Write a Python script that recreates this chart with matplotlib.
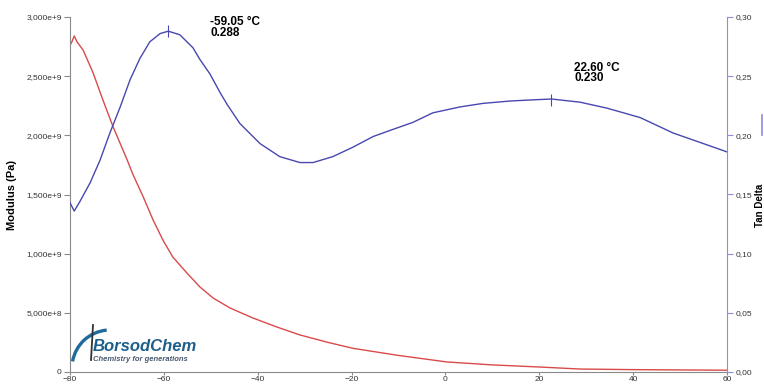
import matplotlib
matplotlib.use("Agg")
import matplotlib.pyplot as plt
from matplotlib.patches import Arc
from matplotlib.ticker import FuncFormatter

plt.rcParams["font.family"] = ["Liberation Sans", "DejaVu Sans"]

# temperature (°C) vs storage modulus (Pa)
temp_mod = [-80, -79.6, -79.1, -78.5, -77.2, -75.1, -73.0, -70.8, -67.9, -66.6,
            -64.4, -62.3, -60.2, -58.1, -55.1, -52.3, -49.5, -45.9, -41.0, -35.9,
            -31.0, -25.0, -19.7, -10.0, 0.3, 10.0, 20.1, 28.7, 40.0, 60.0]
modulus = [2.76e9, 2.79e9, 2.84e9, 2.79e9, 2.72e9, 2.53e9, 2.30e9, 2.07e9, 1.80e9, 1.67e9,
           1.48e9, 1.285e9, 1.115e9, 0.972e9, 0.837e9, 0.718e9, 0.625e9, 0.541e9, 0.456e9, 0.380e9,
           0.313e9, 0.25e9, 0.20e9, 0.14e9, 0.085e9, 0.06e9, 0.042e9, 0.025e9, 0.02e9, 0.015e9]

# temperature (°C) vs tan delta
temp_tan = [-80, -79.1, -77.9, -75.7, -73.6, -71.5, -69.3, -67.2, -65.1, -63.0,
            -60.8, -59.05, -56.6, -53.8, -52.3, -50.2, -48.0, -46.5, -43.8, -39.5,
            -35.3, -31.0, -28.2, -24.0, -19.7, -15.4, -11.2, -6.9, -2.7, 3.1,
            8.0, 13.8, 18.7, 22.6, 28.7, 34.4, 41.5, 48.5, 55.7, 60.0]
tan_delta = [0.143, 0.136, 0.144, 0.160, 0.179, 0.202, 0.224, 0.247, 0.265, 0.279,
             0.286, 0.288, 0.285, 0.274, 0.264, 0.252, 0.236, 0.226, 0.210, 0.193,
             0.182, 0.177, 0.177, 0.182, 0.190, 0.199, 0.205, 0.211, 0.219, 0.224,
             0.227, 0.229, 0.230, 0.2307, 0.228, 0.223, 0.215, 0.202, 0.192, 0.186]

peaks_T = [-59.05, 22.60]
peaks_tan = [0.288, 0.230]

mod_ticks = [0, 5e8, 1e9, 1.5e9, 2e9, 2.5e9, 3e9]
mod_labels = ["0", "5,000e+8", "1,000e+9", "1,500e+9", "2,000e+9", "2,500e+9", "3,000e+9"]
tan_ticks = [0, 0.05, 0.10, 0.15, 0.20, 0.25, 0.30]
x_ticks = [-80, -60, -40, -20, 0, 20, 40, 60]

RED = "#d94a4a"
BLUE = "#4848b0"
GREY = "#8a8a8a"
LBLUE = "#8c8ce0"

fig = plt.figure(figsize=(7.64, 3.85), dpi=100)
W, H = 764, 385
ax = fig.add_axes([70 / W, 13 / H, 657 / W, 355 / H])
ax2 = ax.twinx()

ax.plot(temp_mod, modulus, color=RED, lw=1.0)
ax2.plot(temp_tan, tan_delta, color=BLUE, lw=1.0)
ax2.plot(peaks_T, peaks_tan, ls="none", marker="|", ms=9, mew=0.8, color=BLUE)

ax.set_xlim(-80, 60)
ax.set_ylim(0, 3e9)
ax2.set_ylim(0, 0.30)
ax.set_xticks(x_ticks)
ax.set_yticks(mod_ticks)
ax.set_yticklabels(mod_labels)
ax2.set_yticks(tan_ticks)
ax2.yaxis.set_major_formatter(FuncFormatter(lambda v, p: f"{v:.2f}".replace(".", ",")))

for a in (ax, ax2):
    a.spines["top"].set_visible(False)
ax.spines["right"].set_visible(False)
ax2.spines["left"].set_visible(False)
ax2.spines["bottom"].set_visible(False)
ax.spines["left"].set_color(GREY)
ax.spines["bottom"].set_color(GREY)
ax2.spines["right"].set_color(LBLUE)

ax.tick_params(axis="y", direction="out", length=4, width=0.8, color=GREY,
               labelsize=6, labelcolor="#333333", pad=2)
ax.tick_params(axis="x", direction="out", length=2.5, width=0.8, color=GREY,
               labelsize=6, labelcolor="#333333", pad=0.5)
ax2.tick_params(axis="y", direction="out", length=4, width=0.8, color=LBLUE,
                labelsize=6, labelcolor="#333333", pad=2)

ax.set_ylabel("Modulus (Pa)", fontsize=8, fontweight="bold")
ax.yaxis.set_label_coords(-0.081, 0.5)
ax2.set_ylabel("Tan Delta", fontsize=7, fontweight="bold", rotation=90)
ax2.yaxis.set_label_coords(1.043, 0.47)

for T, v, label, off in [(peaks_T[0], peaks_tan[0], "-59.05 °C\n0.288", (42, 15)),
                         (peaks_T[1], peaks_tan[1], "22.60 °C\n0.230", (23, 38))]:
    ax2.annotate(label, xy=(T, v), xytext=off, textcoords="offset pixels",
                 fontsize=8.5, fontweight="bold", ha="left", va="top",
                 linespacing=0.85)

# legend stub cut off at right edge
fig.add_artist(plt.Line2D([762 / W, 762 / W], [1 - 115 / H, 1 - 135 / H],
                          color=LBLUE, lw=1.2))

# BorsodChem logo
lg = fig.add_axes([70 / W, 1 - 368 / H, 130 / W, 46 / H])
lg.set_xlim(0, 130)
lg.set_ylim(0, 46)
lg.axis("off")
lg.add_patch(Arc((40, 0), 76, 76, theta1=95, theta2=170, color="#1f6a98", lw=2.4))
lg.plot([23, 21], [43, 8], color="#333333", lw=1.3)
lg.text(23, 14, "BorsodChem", fontsize=12, fontweight="bold", style="italic",
        color="#1d5f8a", ha="left", va="bottom")
lg.text(23, 5, "Chemistry for generations", fontsize=5.5, fontweight="bold",
        style="italic", color="#4a5a70", ha="left", va="bottom")

fig.savefig("out.png", dpi=100)
